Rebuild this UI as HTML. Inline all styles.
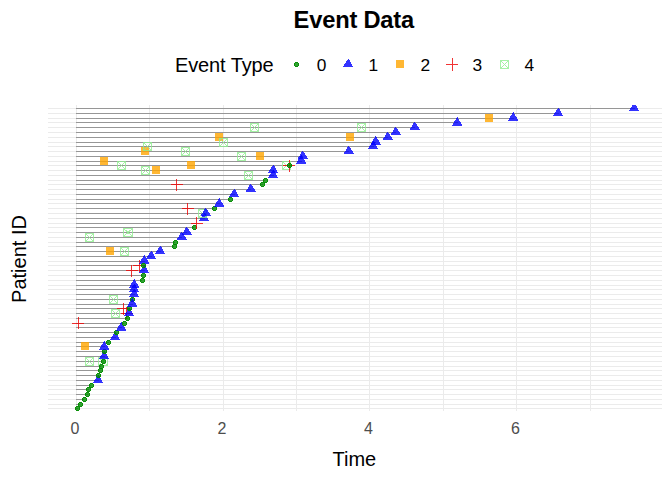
<!DOCTYPE html>
<html><head><meta charset="utf-8"><title>Event Data</title>
<style>
html,body{margin:0;padding:0;background:#fff}
body{width:672px;height:480px;position:relative;overflow:hidden;font-family:"Liberation Sans",sans-serif;color:#000}
.t{position:absolute;white-space:nowrap;line-height:1}
#title{left:53.8px;width:600px;text-align:center;top:8.6px;font-size:23.7px;font-weight:bold;letter-spacing:-0.2px}
#ltitle{left:174.9px;top:55.3px;font-size:20px;letter-spacing:-0.1px}
.ll{font-size:17.33px;top:56.5px}
.ax{font-size:16px;color:#4d4d4d;top:420.8px;width:40px;text-align:center}
#xt{left:254.4px;width:200px;text-align:center;top:449.1px;font-size:20px}
#yt{left:19px;top:258.7px;font-size:20px;transform:translate(-50%,-50%) rotate(-90deg)}
</style></head><body>
<svg width="672" height="480" viewBox="0 0 672 480" style="position:absolute;left:0;top:0" shape-rendering="crispEdges">
<defs><clipPath id="pc"><rect x="48" y="105" width="614" height="306"/></clipPath></defs>
<g clip-path="url(#pc)">
<path d="M149.5 105V411M296.5 105V411M443.5 105V411M590.5 105V411" stroke="#ebebeb" stroke-width="1" fill="none"/>
<path d="M76.5 105V411M223.5 105V411M369.5 105V411M516.5 105V411M48 408.5H662M48 404.5H662M48 399.5H662M48 394.5H662M48 389.5H662M48 385.5H662M48 380.5H662M48 375.5H662M48 370.5H662M48 366.5H662M48 361.5H662M48 356.5H662M48 351.5H662M48 346.5H662M48 342.5H662M48 337.5H662M48 332.5H662M48 327.5H662M48 323.5H662M48 318.5H662M48 313.5H662M48 308.5H662M48 304.5H662M48 299.5H662M48 294.5H662M48 289.5H662M48 285.5H662M48 280.5H662M48 275.5H662M48 270.5H662M48 265.5H662M48 261.5H662M48 256.5H662M48 251.5H662M48 246.5H662M48 242.5H662M48 237.5H662M48 232.5H662M48 227.5H662M48 223.5H662M48 218.5H662M48 213.5H662M48 208.5H662M48 203.5H662M48 199.5H662M48 194.5H662M48 189.5H662M48 184.5H662M48 180.5H662M48 175.5H662M48 170.5H662M48 165.5H662M48 161.5H662M48 156.5H662M48 151.5H662M48 146.5H662M48 142.5H662M48 137.5H662M48 132.5H662M48 127.5H662M48 122.5H662M48 118.5H662M48 113.5H662M48 108.5H662" stroke="#ebebeb" stroke-width="1" fill="none"/>
<path d="M76 408.5H77.5M76 404.5H80.4M76 399.5H84.4M76 394.5H87.5M76 389.5H88.5M76 385.5H91.25M76 380.5H98.5M76 375.5H98.5M76 370.5H100.4M76 366.5H101.25M76 361.5H103.5M76 356.5H104.5M76 351.5H104.4M76 346.5H104.5M76 342.5H108.5M76 337.5H115.5M76 332.5H116.25M76 327.5H121.5M76 323.5H124.4M76 318.5H127.5M76 313.5H129.5M76 308.5H129.5M76 304.5H132.5M76 299.5H132.6M76 294.5H134.5M76 289.5H134.5M76 285.5H134.5M76 280.5H142.4M76 275.5H143.4M76 270.5H144.5M76 265.5H143.4M76 261.5H144.5M76 256.5H151.5M76 251.5H160.5M76 246.5H174.4M76 242.5H175.4M76 237.5H181.5M76 232.5H186.5M76 227.5H194.4M76 223.5H196.5M76 218.5H204.5M76 213.5H205.5M76 208.5H214.4M76 203.5H219.5M76 199.5H230.4M76 194.5H234.5M76 189.5H250.5M76 184.5H262.5M76 180.5H265.4M76 175.5H273.5M76 170.5H273.5M76 165.5H289.4M76 161.5H301.5M76 156.5H302.5M76 151.5H348.5M76 146.5H373.5M76 142.5H375.5M76 137.5H387.5M76 132.5H395.5M76 127.5H414.5M76 122.5H457.5M76 118.5H513.5M76 113.5H558.5M76 108.5H634.5" stroke="#969696" stroke-width="1" fill="none"/>
<rect x="81" y="342" width="8" height="8" fill="rgba(255,165,0,0.8)"/>
<rect x="106" y="247" width="8" height="8" fill="rgba(255,165,0,0.8)"/>
<rect x="152" y="166" width="8" height="8" fill="rgba(255,165,0,0.8)"/>
<rect x="187" y="161" width="8" height="8" fill="rgba(255,165,0,0.8)"/>
<rect x="100" y="157" width="8" height="8" fill="rgba(255,165,0,0.8)"/>
<rect x="256" y="152" width="8" height="8" fill="rgba(255,165,0,0.8)"/>
<rect x="141" y="147" width="8" height="8" fill="rgba(255,165,0,0.8)"/>
<rect x="215" y="133" width="8" height="8" fill="rgba(255,165,0,0.8)"/>
<rect x="346" y="133" width="8" height="8" fill="rgba(255,165,0,0.8)"/>
<rect x="485" y="114" width="8" height="8" fill="rgba(255,165,0,0.8)"/>
<path d="M85.5 357.5h8v8h-8ZM85.5 357.5L93.5 365.5M85.5 365.5L93.5 357.5" fill="none" stroke="rgba(144,238,144,0.8)" stroke-width="1"/>
<path d="M98.5 357.5h9v8h-9ZM98.5 357.5L107.5 365.5M98.5 365.5L107.5 357.5" fill="none" stroke="rgba(144,238,144,0.8)" stroke-width="1"/>
<path d="M111.5 309.5h8v8h-8ZM111.5 309.5L119.5 317.5M111.5 317.5L119.5 309.5" fill="none" stroke="rgba(144,238,144,0.8)" stroke-width="1"/>
<path d="M109.5 295.5h8v8h-8ZM109.5 295.5L117.5 303.5M109.5 303.5L117.5 295.5" fill="none" stroke="rgba(144,238,144,0.8)" stroke-width="1"/>
<path d="M120.5 247.5h8v8h-8ZM120.5 247.5L128.5 255.5M120.5 255.5L128.5 247.5" fill="none" stroke="rgba(144,238,144,0.8)" stroke-width="1"/>
<path d="M85.5 233.5h8v8h-8ZM85.5 233.5L93.5 241.5M85.5 241.5L93.5 233.5" fill="none" stroke="rgba(144,238,144,0.8)" stroke-width="1"/>
<path d="M123.5 228.5h9v8h-9ZM123.5 228.5L132.5 236.5M123.5 236.5L132.5 228.5" fill="none" stroke="rgba(144,238,144,0.8)" stroke-width="1"/>
<path d="M244.5 171.5h8v8h-8ZM244.5 171.5L252.5 179.5M244.5 179.5L252.5 171.5" fill="none" stroke="rgba(144,238,144,0.8)" stroke-width="1"/>
<path d="M141.5 166.5h8v8h-8ZM141.5 166.5L149.5 174.5M141.5 174.5L149.5 166.5" fill="none" stroke="rgba(144,238,144,0.8)" stroke-width="1"/>
<path d="M117.5 161.5h8v8h-8ZM117.5 161.5L125.5 169.5M117.5 169.5L125.5 161.5" fill="none" stroke="rgba(144,238,144,0.8)" stroke-width="1"/>
<path d="M282.5 161.5h8v8h-8ZM282.5 161.5L290.5 169.5M282.5 169.5L290.5 161.5" fill="none" stroke="rgba(144,238,144,0.8)" stroke-width="1"/>
<path d="M237.5 152.5h8v8h-8ZM237.5 152.5L245.5 160.5M237.5 160.5L245.5 152.5" fill="none" stroke="rgba(144,238,144,0.8)" stroke-width="1"/>
<path d="M181.5 147.5h8v8h-8ZM181.5 147.5L189.5 155.5M181.5 155.5L189.5 147.5" fill="none" stroke="rgba(144,238,144,0.8)" stroke-width="1"/>
<path d="M143.5 142.5h8v8h-8ZM143.5 142.5L151.5 150.5M143.5 150.5L151.5 142.5" fill="none" stroke="rgba(144,238,144,0.8)" stroke-width="1"/>
<path d="M219.5 138.5h8v8h-8ZM219.5 138.5L227.5 146.5M219.5 146.5L227.5 138.5" fill="none" stroke="rgba(144,238,144,0.8)" stroke-width="1"/>
<path d="M250.5 123.5h8v8h-8ZM250.5 123.5L258.5 131.5M250.5 131.5L258.5 123.5" fill="none" stroke="rgba(144,238,144,0.8)" stroke-width="1"/>
<path d="M357.5 123.5h8v8h-8ZM357.5 123.5L365.5 131.5M357.5 131.5L365.5 123.5" fill="none" stroke="rgba(144,238,144,0.8)" stroke-width="1"/>
<path d="M72 323.5H84M78.5 317V329" fill="none" stroke="rgba(238,0,0,0.8)" stroke-width="1"/>
<path d="M121 313.5H133M126.5 307V319" fill="none" stroke="rgba(238,0,0,0.8)" stroke-width="1"/>
<path d="M117 308.5H129M123.5 303V315" fill="none" stroke="rgba(238,0,0,0.8)" stroke-width="1"/>
<path d="M126 270.5H138M131.5 265V277" fill="none" stroke="rgba(238,0,0,0.8)" stroke-width="1"/>
<path d="M133 265.5H145M139.5 260V272" fill="none" stroke="rgba(238,0,0,0.8)" stroke-width="1"/>
<path d="M182 208.5H194M187.5 203V215" fill="none" stroke="rgba(238,0,0,0.8)" stroke-width="1"/>
<path d="M171 184.5H183M176.5 179V191" fill="none" stroke="rgba(238,0,0,0.8)" stroke-width="1"/>
<path d="M283 165.5H295M289.5 160V172" fill="none" stroke="rgba(238,0,0,0.8)" stroke-width="1"/>
<path d="M76 406h3v1h1v3h-1v1h-3v-1h-1v-3h1ZM76 407v3h3v-3Z" fill="rgba(0,139,0,0.96)" fill-rule="evenodd"/><rect x="76" y="407" width="3" height="3" fill="rgba(0,139,0,0.8)"/>
<path d="M79 402h3v1h1v3h-1v1h-3v-1h-1v-3h1ZM79 403v3h3v-3Z" fill="rgba(0,139,0,0.96)" fill-rule="evenodd"/><rect x="79" y="403" width="3" height="3" fill="rgba(0,139,0,0.8)"/>
<path d="M83 397h3v1h1v3h-1v1h-3v-1h-1v-3h1ZM83 398v3h3v-3Z" fill="rgba(0,139,0,0.96)" fill-rule="evenodd"/><rect x="83" y="398" width="3" height="3" fill="rgba(0,139,0,0.8)"/>
<path d="M86 392h3v1h1v3h-1v1h-3v-1h-1v-3h1ZM86 393v3h3v-3Z" fill="rgba(0,139,0,0.96)" fill-rule="evenodd"/><rect x="86" y="393" width="3" height="3" fill="rgba(0,139,0,0.8)"/>
<path d="M87 387h3v1h1v3h-1v1h-3v-1h-1v-3h1ZM87 388v3h3v-3Z" fill="rgba(0,139,0,0.96)" fill-rule="evenodd"/><rect x="87" y="388" width="3" height="3" fill="rgba(0,139,0,0.8)"/>
<path d="M90 383h3v1h1v3h-1v1h-3v-1h-1v-3h1ZM90 384v3h3v-3Z" fill="rgba(0,139,0,0.96)" fill-rule="evenodd"/><rect x="90" y="384" width="3" height="3" fill="rgba(0,139,0,0.8)"/>
<polygon points="98.5,374.6 103.36,383 92.56,383" fill="rgba(0,0,255,0.8)"/>
<path d="M97 373h3v1h1v3h-1v1h-3v-1h-1v-3h1ZM97 374v3h3v-3Z" fill="rgba(0,139,0,0.96)" fill-rule="evenodd"/><rect x="97" y="374" width="3" height="3" fill="rgba(0,139,0,0.8)"/>
<path d="M99 368h3v1h1v3h-1v1h-3v-1h-1v-3h1ZM99 369v3h3v-3Z" fill="rgba(0,139,0,0.96)" fill-rule="evenodd"/><rect x="99" y="369" width="3" height="3" fill="rgba(0,139,0,0.8)"/>
<path d="M100 364h3v1h1v3h-1v1h-3v-1h-1v-3h1ZM100 365v3h3v-3Z" fill="rgba(0,139,0,0.96)" fill-rule="evenodd"/><rect x="100" y="365" width="3" height="3" fill="rgba(0,139,0,0.8)"/>
<path d="M102 359h3v1h1v3h-1v1h-3v-1h-1v-3h1ZM102 360v3h3v-3Z" fill="rgba(0,139,0,0.96)" fill-rule="evenodd"/><rect x="102" y="360" width="3" height="3" fill="rgba(0,139,0,0.8)"/>
<polygon points="104.5,350.6 109.36,359 98.56,359" fill="rgba(0,0,255,0.8)"/>
<path d="M103 349h3v1h1v3h-1v1h-3v-1h-1v-3h1ZM103 350v3h3v-3Z" fill="rgba(0,139,0,0.96)" fill-rule="evenodd"/><rect x="103" y="350" width="3" height="3" fill="rgba(0,139,0,0.8)"/>
<polygon points="104.5,340.6 109.33,350 98.6,350" fill="rgba(0,0,255,0.8)"/>
<path d="M107 340h3v1h1v3h-1v1h-3v-1h-1v-3h1ZM107 341v3h3v-3Z" fill="rgba(0,139,0,0.96)" fill-rule="evenodd"/><rect x="107" y="341" width="3" height="3" fill="rgba(0,139,0,0.8)"/>
<polygon points="115.5,331.6 120.36,340 109.56,340" fill="rgba(0,0,255,0.8)"/>
<path d="M115 330h3v1h1v3h-1v1h-3v-1h-1v-3h1ZM115 331v3h3v-3Z" fill="rgba(0,139,0,0.96)" fill-rule="evenodd"/><rect x="115" y="331" width="3" height="3" fill="rgba(0,139,0,0.8)"/>
<polygon points="121.5,321.6 126.33,331 115.6,331" fill="rgba(0,0,255,0.8)"/>
<path d="M123 321h3v1h1v3h-1v1h-3v-1h-1v-3h1ZM123 322v3h3v-3Z" fill="rgba(0,139,0,0.96)" fill-rule="evenodd"/><rect x="123" y="322" width="3" height="3" fill="rgba(0,139,0,0.8)"/>
<path d="M126 316h3v1h1v3h-1v1h-3v-1h-1v-3h1ZM126 317v3h3v-3Z" fill="rgba(0,139,0,0.96)" fill-rule="evenodd"/><rect x="126" y="317" width="3" height="3" fill="rgba(0,139,0,0.8)"/>
<polygon points="129.5,307.6 134.36,316 123.56,316" fill="rgba(0,0,255,0.8)"/>
<path d="M128 306h3v1h1v3h-1v1h-3v-1h-1v-3h1ZM128 307v3h3v-3Z" fill="rgba(0,139,0,0.96)" fill-rule="evenodd"/><rect x="128" y="307" width="3" height="3" fill="rgba(0,139,0,0.8)"/>
<path d="M131 297h3v1h1v3h-1v1h-3v-1h-1v-3h1ZM131 298v3h3v-3Z" fill="rgba(0,139,0,0.96)" fill-rule="evenodd"/><rect x="131" y="298" width="3" height="3" fill="rgba(0,139,0,0.8)"/>
<polygon points="132.5,297.6 137.33,307 126.6,307" fill="rgba(0,0,255,0.8)"/>
<polygon points="134.5,288.6 139.36,297 128.56,297" fill="rgba(0,0,255,0.8)"/>
<polygon points="134.5,283.6 139.36,292 128.56,292" fill="rgba(0,0,255,0.8)"/>
<polygon points="134.5,278.6 139.33,288 128.6,288" fill="rgba(0,0,255,0.8)"/>
<path d="M141 278h3v1h1v3h-1v1h-3v-1h-1v-3h1ZM141 279v3h3v-3Z" fill="rgba(0,139,0,0.96)" fill-rule="evenodd"/><rect x="141" y="279" width="3" height="3" fill="rgba(0,139,0,0.8)"/>
<path d="M142 273h3v1h1v3h-1v1h-3v-1h-1v-3h1ZM142 274v3h3v-3Z" fill="rgba(0,139,0,0.96)" fill-rule="evenodd"/><rect x="142" y="274" width="3" height="3" fill="rgba(0,139,0,0.8)"/>
<polygon points="144.5,264.6 149.36,273 138.56,273" fill="rgba(0,0,255,0.8)"/>
<polygon points="144.5,254.6 149.33,264 138.6,264" fill="rgba(0,0,255,0.8)"/>
<path d="M142 263h3v1h1v3h-1v1h-3v-1h-1v-3h1ZM142 264v3h3v-3Z" fill="rgba(0,139,0,0.96)" fill-rule="evenodd"/><rect x="142" y="264" width="3" height="3" fill="rgba(0,139,0,0.8)"/>
<polygon points="151.5,250.6 156.36,259 145.56,259" fill="rgba(0,0,255,0.8)"/>
<polygon points="160.5,245.6 165.36,254 154.56,254" fill="rgba(0,0,255,0.8)"/>
<path d="M173 244h3v1h1v3h-1v1h-3v-1h-1v-3h1ZM173 245v3h3v-3Z" fill="rgba(0,139,0,0.96)" fill-rule="evenodd"/><rect x="173" y="245" width="3" height="3" fill="rgba(0,139,0,0.8)"/>
<path d="M174 240h3v1h1v3h-1v1h-3v-1h-1v-3h1ZM174 241v3h3v-3Z" fill="rgba(0,139,0,0.96)" fill-rule="evenodd"/><rect x="174" y="241" width="3" height="3" fill="rgba(0,139,0,0.8)"/>
<polygon points="181.5,231.6 187.44,240 176.64,240" fill="rgba(0,0,255,0.8)"/>
<polygon points="186.5,226.6 192.44,235 181.64,235" fill="rgba(0,0,255,0.8)"/>
<path d="M193 225h3v1h1v3h-1v1h-3v-1h-1v-3h1ZM193 226v3h3v-3Z" fill="rgba(0,139,0,0.96)" fill-rule="evenodd"/><rect x="193" y="226" width="3" height="3" fill="rgba(0,139,0,0.8)"/>
<path d="M191 223.5H203M196.5 217V229" fill="none" stroke="rgba(238,0,0,0.8)" stroke-width="1"/>
<polygon points="204.5,212.6 209.36,221 198.56,221" fill="rgba(0,0,255,0.8)"/>
<path d="M198.5 209.5h8v8h-8ZM198.5 209.5L206.5 217.5M198.5 217.5L206.5 209.5" fill="none" stroke="rgba(144,238,144,0.8)" stroke-width="1"/>
<polygon points="205.5,207.6 211.44,216 200.64,216" fill="rgba(0,0,255,0.8)"/>
<path d="M213 206h3v1h1v3h-1v1h-3v-1h-1v-3h1ZM213 207v3h3v-3Z" fill="rgba(0,139,0,0.96)" fill-rule="evenodd"/><rect x="213" y="207" width="3" height="3" fill="rgba(0,139,0,0.8)"/>
<polygon points="219.5,197.6 224.33,207 213.6,207" fill="rgba(0,0,255,0.8)"/>
<path d="M229 197h3v1h1v3h-1v1h-3v-1h-1v-3h1ZM229 198v3h3v-3Z" fill="rgba(0,139,0,0.96)" fill-rule="evenodd"/><rect x="229" y="198" width="3" height="3" fill="rgba(0,139,0,0.8)"/>
<polygon points="234.5,188.6 239.36,197 228.56,197" fill="rgba(0,0,255,0.8)"/>
<polygon points="250.5,183.6 256.44,192 245.64,192" fill="rgba(0,0,255,0.8)"/>
<path d="M261 182h3v1h1v3h-1v1h-3v-1h-1v-3h1ZM261 183v3h3v-3Z" fill="rgba(0,139,0,0.96)" fill-rule="evenodd"/><rect x="261" y="183" width="3" height="3" fill="rgba(0,139,0,0.8)"/>
<path d="M264 178h3v1h1v3h-1v1h-3v-1h-1v-3h1ZM264 179v3h3v-3Z" fill="rgba(0,139,0,0.96)" fill-rule="evenodd"/><rect x="264" y="179" width="3" height="3" fill="rgba(0,139,0,0.8)"/>
<polygon points="273.5,169.6 278.36,178 267.56,178" fill="rgba(0,0,255,0.8)"/>
<polygon points="273.5,164.6 278.36,173 267.56,173" fill="rgba(0,0,255,0.8)"/>
<path d="M288 163h3v1h1v3h-1v1h-3v-1h-1v-3h1ZM288 164v3h3v-3Z" fill="rgba(0,139,0,0.96)" fill-rule="evenodd"/><rect x="288" y="164" width="3" height="3" fill="rgba(0,139,0,0.8)"/>
<polygon points="301.5,154.6 306.33,164 295.6,164" fill="rgba(0,0,255,0.8)"/>
<polygon points="302.5,150.6 308.44,159 297.64,159" fill="rgba(0,0,255,0.8)"/>
<polygon points="348.5,145.6 354.44,154 343.64,154" fill="rgba(0,0,255,0.8)"/>
<polygon points="373.5,140.6 378.36,149 367.56,149" fill="rgba(0,0,255,0.8)"/>
<polygon points="375.5,135.6 381.4,145 370.67,145" fill="rgba(0,0,255,0.8)"/>
<polygon points="387.5,131.6 393.44,140 382.64,140" fill="rgba(0,0,255,0.8)"/>
<polygon points="395.5,126.6 401.44,135 390.64,135" fill="rgba(0,0,255,0.8)"/>
<polygon points="414.5,121.6 420.44,130 409.64,130" fill="rgba(0,0,255,0.8)"/>
<polygon points="457.5,116.6 462.33,126 451.6,126" fill="rgba(0,0,255,0.8)"/>
<polygon points="513.5,111.6 518.33,121 507.6,121" fill="rgba(0,0,255,0.8)"/>
<polygon points="558.5,107.6 563.36,116 552.56,116" fill="rgba(0,0,255,0.8)"/>
<polygon points="634.5,102.6 639.36,111 628.56,111" fill="rgba(0,0,255,0.8)"/>
</g>
<path d="M295 62h3v1h1v3h-1v1h-3v-1h-1v-3h1ZM295 63v3h3v-3Z" fill="rgba(0,139,0,0.96)" fill-rule="evenodd"/><rect x="295" y="63" width="3" height="3" fill="rgba(0,139,0,0.8)"/>
<polygon points="348.5,58.6 353.36,67 342.56,67" fill="rgba(0,0,255,0.8)"/>
<rect x="396" y="60" width="8" height="8" fill="rgba(255,165,0,0.8)"/>
<path d="M446 64.5H458M452.5 58V71" fill="none" stroke="rgba(238,0,0,0.8)" stroke-width="1"/>
<path d="M500.5 60.5h8v8h-8ZM500.5 60.5L508.5 68.5M500.5 68.5L508.5 60.5" fill="none" stroke="rgba(144,238,144,0.8)" stroke-width="1"/>
</svg>
<div class="t" id="title">Event Data</div>
<div class="t" id="ltitle">Event Type</div>
<div class="t ll" style="left:316.7px">0</div>
<div class="t ll" style="left:368.6px">1</div>
<div class="t ll" style="left:420.4px">2</div>
<div class="t ll" style="left:472.6px">3</div>
<div class="t ll" style="left:524.4px">4</div>
<div class="t ax" style="left:55.0px">0</div>
<div class="t ax" style="left:201.9px">2</div>
<div class="t ax" style="left:348.5px">4</div>
<div class="t ax" style="left:495.4px">6</div>
<div class="t" id="xt">Time</div>
<div class="t" id="yt">Patient ID</div>
</body></html>
